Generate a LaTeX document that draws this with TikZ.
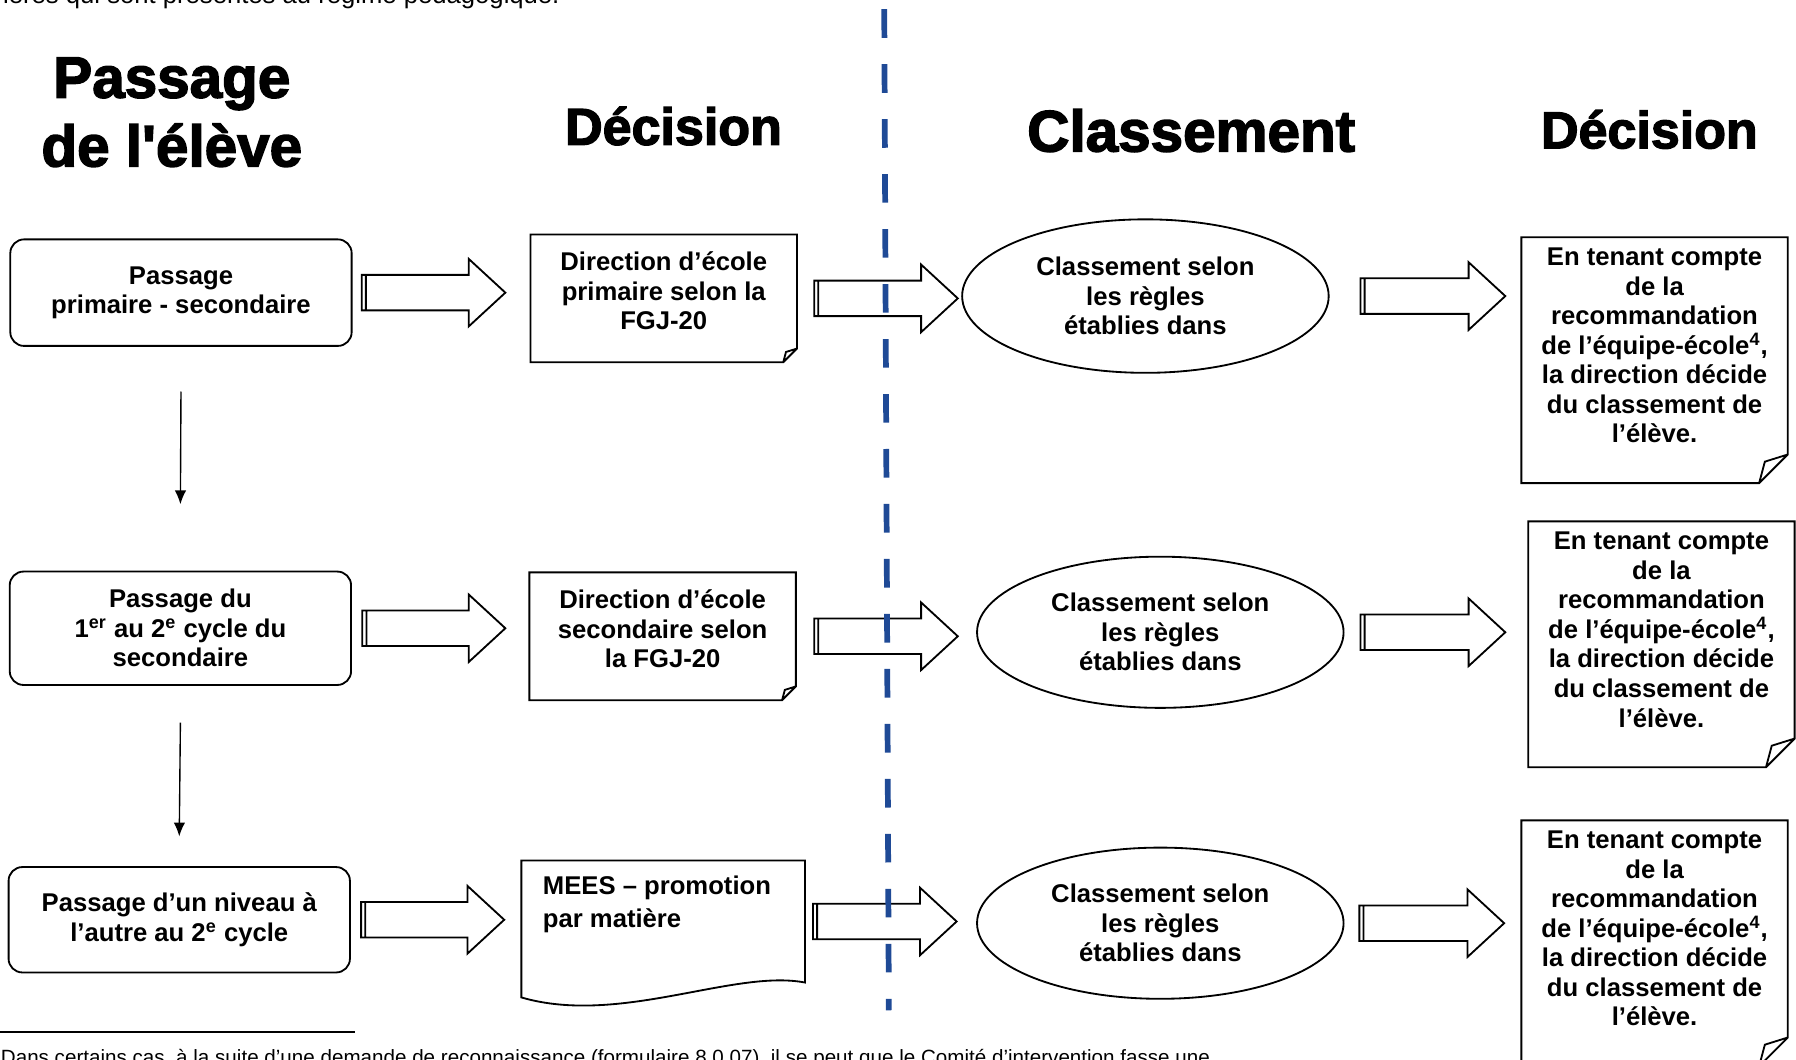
\documentclass[tikz,border=0pt]{standalone}
\usepackage{fontspec}
\setmainfont{Liberation Sans}
\newfontfamily\heavyfont[FakeBold=2.5, Ligatures=TeXOff]{Liberation Sans Bold}
\usetikzlibrary{shapes.geometric}
\usetikzlibrary{arrows.meta}
\usetikzlibrary{calc}
\definecolor{sepblue}{RGB}{31,74,150}
\newcommand{\boxfont}{\bfseries\fontsize{11.2}{12.9}\selectfont}
\newcommand{\notetext}[1]{\begin{minipage}[c][98pt][t]{114pt}\centering #1\end{minipage}}

\begin{document}
\begin{tikzpicture}
	[x=0.5pt, y=-0.5pt, thick,
	 title/.style = {font=\heavyfont\fontsize{25.5}{30}\selectfont, align=center},
	 passbox/.style = {draw, rounded corners=6pt, minimum width=149pt, align=center, font=\boxfont},
	 docbox/.style = {minimum width=115.5pt, minimum height=55pt, text depth=6.5pt, align=center, font=\boxfont},
	 rulebox/.style = {draw, ellipse, minimum width=160pt, minimum height=66pt, inner sep=0pt, align=center, font=\boxfont},
	 notebox/.style = {minimum width=115.5pt, minimum height=106.5pt, inner sep=0pt, font=\boxfont},
	 fat/.style = {fill=white, to path={let \p1=(\tikztostart), \p2=(\tikztotarget) in
	   (\x1,\y1-7.75pt) -- (\x2-16pt,\y1-7.75pt) -- (\x2-16pt,\y1-14.75pt) -- (\x2,\y1)
	   -- (\x2-16pt,\y1+14.75pt) -- (\x2-16pt,\y1+7.75pt) -- (\x1,\y1+7.75pt) -- cycle
	   (\x1+1.8pt,\y1-7.75pt) -- (\x1+1.8pt,\y1+7.75pt)}}]
	\useasboundingbox (0,0) rectangle (1568,925);
	% bits of the page around the figure
	\node[anchor=base west, inner sep=0pt, font=\fontsize{11.2}{13}\selectfont] (prev) at (2,3) {ières qui sont présentes au régime pédagogique.};
	\node[anchor=base west, inner sep=0pt, font=\fontsize{9}{11}\selectfont] (foot) at (0,929) {Dans certains cas, à la suite d’une demande de reconnaissance (formulaire 8.0.07), il se peut que le Comité d’intervention fasse une};
	\draw[semithick] (0,901) -- (310,901);
	% column titles
	\node[title] (t1) at (150,98) {Passage\\de l'élève};
	\node[title, font=\heavyfont\fontsize{22.7}{27}\selectfont] (t2) at (588,110) {Décision};
	\node[title] (t3) at (1040,114) {Classement};
	\node[title, font=\heavyfont\fontsize{22.7}{27}\selectfont] (t4) at (1440,113) {Décision};
	% row 1
	\node[passbox, minimum height=46.5pt] (p1) at (158,255.5) {Passage\\primaire - secondaire};
	\node[docbox] (d1) at (579.5,260.5) {Direction d’école\\primaire selon la\\FGJ-20};
	\node[rulebox, minimum height=67pt] (e1) at (1000,258.5) {Classement selon\\les règles\\établies dans};
	\node[notebox] (r1) at (1444.5,314.5) {\notetext{En tenant compte\\de la\\recommandation\\de l’équipe-école\textsuperscript{4},\\la direction décide\\du classement de\\l’élève.}};
	% row 2
	\node[passbox, minimum height=49.5pt] (p2) at (157.5,548.5) {Passage du\\1\textsuperscript{er} au 2\textsuperscript{e} cycle du\\secondaire};
	\node[docbox] (d2) at (578.5,555.5) {Direction d’école\\secondaire selon\\la FGJ-20};
	\node[rulebox] (e2) at (1013,552) {Classement selon\\les règles\\établies dans};
	\node[notebox] (r2) at (1450.5,562.5) {\notetext{En tenant compte\\de la\\recommandation\\de l’équipe-école\textsuperscript{4},\\la direction décide\\du classement de\\l’élève.}};
	% row 3
	\node[passbox, minimum height=46pt] (p3) at (156.5,803) {Passage d’un niveau à\\l’autre au 2\textsuperscript{e} cycle};
	\node[docbox, minimum width=123pt, minimum height=52.5pt, text depth=, align=left] (m3) at (579,804.5) {\begin{minipage}[c][40pt][t]{105pt}\mbox{MEES – promotion}\\[1.6pt]par matière\end{minipage}};
	\node[rulebox] (e3) at (1013,806) {Classement selon\\les règles\\établies dans};
	\node[notebox] (r3) at (1444.5,823.5) {\notetext{En tenant compte\\de la\\recommandation\\de l’équipe-école\textsuperscript{4},\\la direction décide\\du classement de\\l’élève.}};
	% folded corners
	\foreach \n/\f in {d1/6pt, d2/6pt, r1/12.5pt, r2/12.5pt, r3/12.5pt}
	  \draw (\n.north west) -- (\n.north east) -- ([yshift=\f]\n.south east) -- ([xshift=-\f]\n.south east) -- (\n.south west) -- cycle
	    ([xshift=-\f]\n.south east) -- ([xshift=-0.8*\f, yshift=0.75*\f]\n.south east) -- ([yshift=\f]\n.south east);
	\draw (m3.north west) -- (m3.north east) -- (m3.south east)
	  .. controls ([xshift=-31pt, yshift=6pt]m3.south east) and ([xshift=-81pt, yshift=-19pt]m3.south east) .. ([yshift=-6.5pt]m3.south west) -- cycle;
	% down arrows
	\draw[semithick, -{Latex[length=6pt, width=5pt]}] ([yshift=-19.5pt]p1.south) -- ([yshift=29pt]p2.north);
	\draw[semithick, -{Latex[length=6pt, width=5pt]}] ([yshift=-16pt]p2.south) -- ([yshift=13pt]p3.north);
	% block arrows
	\draw[fat] ([xshift=4pt]p1.east) to ([xshift=-11pt]d1.west);
	\draw[fat] ([xshift=7.5pt]d1.east) to ([xshift=-1.5pt]e1.west);
	\draw[fat] ([xshift=13.5pt]e1.east) to ([xshift=-7pt]r1.west);
	\draw[fat] ([xshift=4.5pt]p2.east) to ([xshift=-10.5pt]d2.west);
	\draw[fat] ([xshift=8pt]d2.east) to ([xshift=-8pt]e2.west);
	\draw[fat] ([xshift=7pt]e2.east) to ([xshift=-10pt]r2.west);
	\draw[fat] ([xshift=4.5pt]p3.east) to ([xshift=-7.5pt]m3.west);
	\draw[fat] ([xshift=3.5pt]m3.east) to ([xshift=-8.5pt]e3.west);
	\draw[fat] ([xshift=6.5pt]e3.east) to ([xshift=-7.5pt]r3.west);
	% separator
	\coordinate (septop) at (772,8);
	\coordinate (sepbot) at (776,882);
	\draw[sepblue, line width=2.5pt, dash pattern=on 12.5pt off 11.5pt] (septop) -- (sepbot);
\end{tikzpicture}
\end{document}
